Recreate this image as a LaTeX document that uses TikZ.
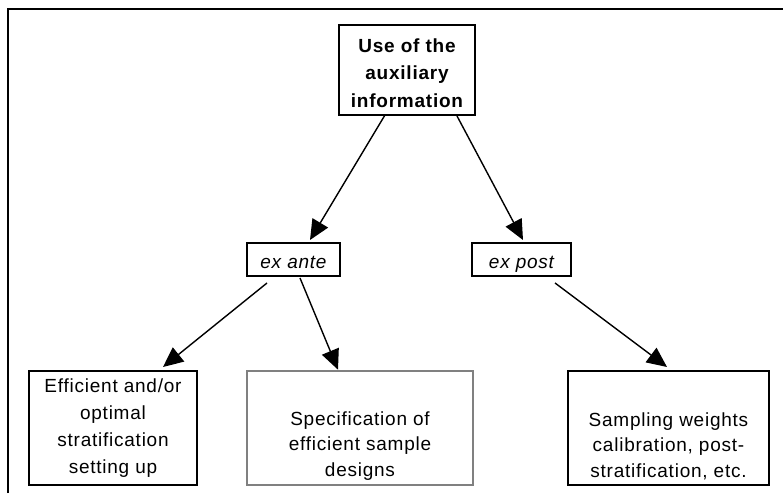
\documentclass[tikz,border=0pt]{standalone}
\usepackage{fontspec}
\setmainfont[LetterSpace=4]{Liberation Sans}
\usetikzlibrary{arrows.meta,calc}
\definecolor{boxgray}{RGB}{128,128,128}
\begin{document}
\begin{tikzpicture}[x=1pt,y=1pt,
  box/.style={draw=black,line width=2pt,inner sep=0pt,align=center,
    font=\fontsize{19}{27}\selectfont},
  smallbox/.style={box,text height=20pt,text depth=3pt,font=\fontsize{19}{27}\selectfont\itshape},
  txt/.style={inner sep=0pt,align=center,font=\fontsize{19}{25.5}\selectfont},
  arr/.style={line width=1.4pt,-{Triangle[length=20pt,width=18pt]}}]
\useasboundingbox (0,0) rectangle (783,493);
% outer frame
\draw[line width=2.2pt] (8,0) -- (8,484) -- (783,484);
% nodes
\node[box,minimum width=136pt,minimum height=90pt] (top) at (407,423) {};
\node[txt,font=\fontsize{19}{27.5}\selectfont\bfseries] (toptext) at ([yshift=-3pt]top.center)
  {Use of the\\auxiliary\\information};
\node[smallbox,minimum width=93pt,minimum height=33pt] (exante) at (293.5,233.5) {ex ante};
\node[smallbox,minimum width=99pt,minimum height=33pt] (expost) at (521.5,233.5) {ex post};
\node[box,minimum width=168pt,minimum height=114pt] (eff) at (113,65)
  {Efficient and/or\\optimal\\stratification\\setting up};
\node[box,draw=boxgray,line width=2.6pt,minimum width=226pt,minimum height=114pt] (spec) at (360,65) {};
\node[txt] (spectext) at ([yshift=-18pt]spec.center)
  {Specification of\\efficient sample\\designs};
\node[box,minimum width=201pt,minimum height=114pt] (samp) at (668.5,65) {};
\node[txt] (samptext) at ([yshift=-18pt]samp.center)
  {Sampling weights\\calibration, post-\\stratification, etc.};
% connectors
\draw[arr] ([xshift=-22pt,yshift=1pt]top.south) -- ([xshift=16.5pt,yshift=2pt]exante.north);
\draw[arr] ([xshift=50pt]top.south) -- ([xshift=1.5pt,yshift=2pt]expost.north);
\draw[arr] ([xshift=-26.5pt,yshift=-6pt]exante.south) -- ([xshift=50pt,yshift=3pt]eff.north);
\draw[arr] ([xshift=6.5pt,yshift=-1pt]exante.south) -- ([xshift=-22pt,yshift=0pt]spec.north);
\draw[arr] ([xshift=33.5pt,yshift=-6pt]expost.south) -- ([xshift=-1.5pt,yshift=3pt]samp.north);
\end{tikzpicture}
\end{document}
